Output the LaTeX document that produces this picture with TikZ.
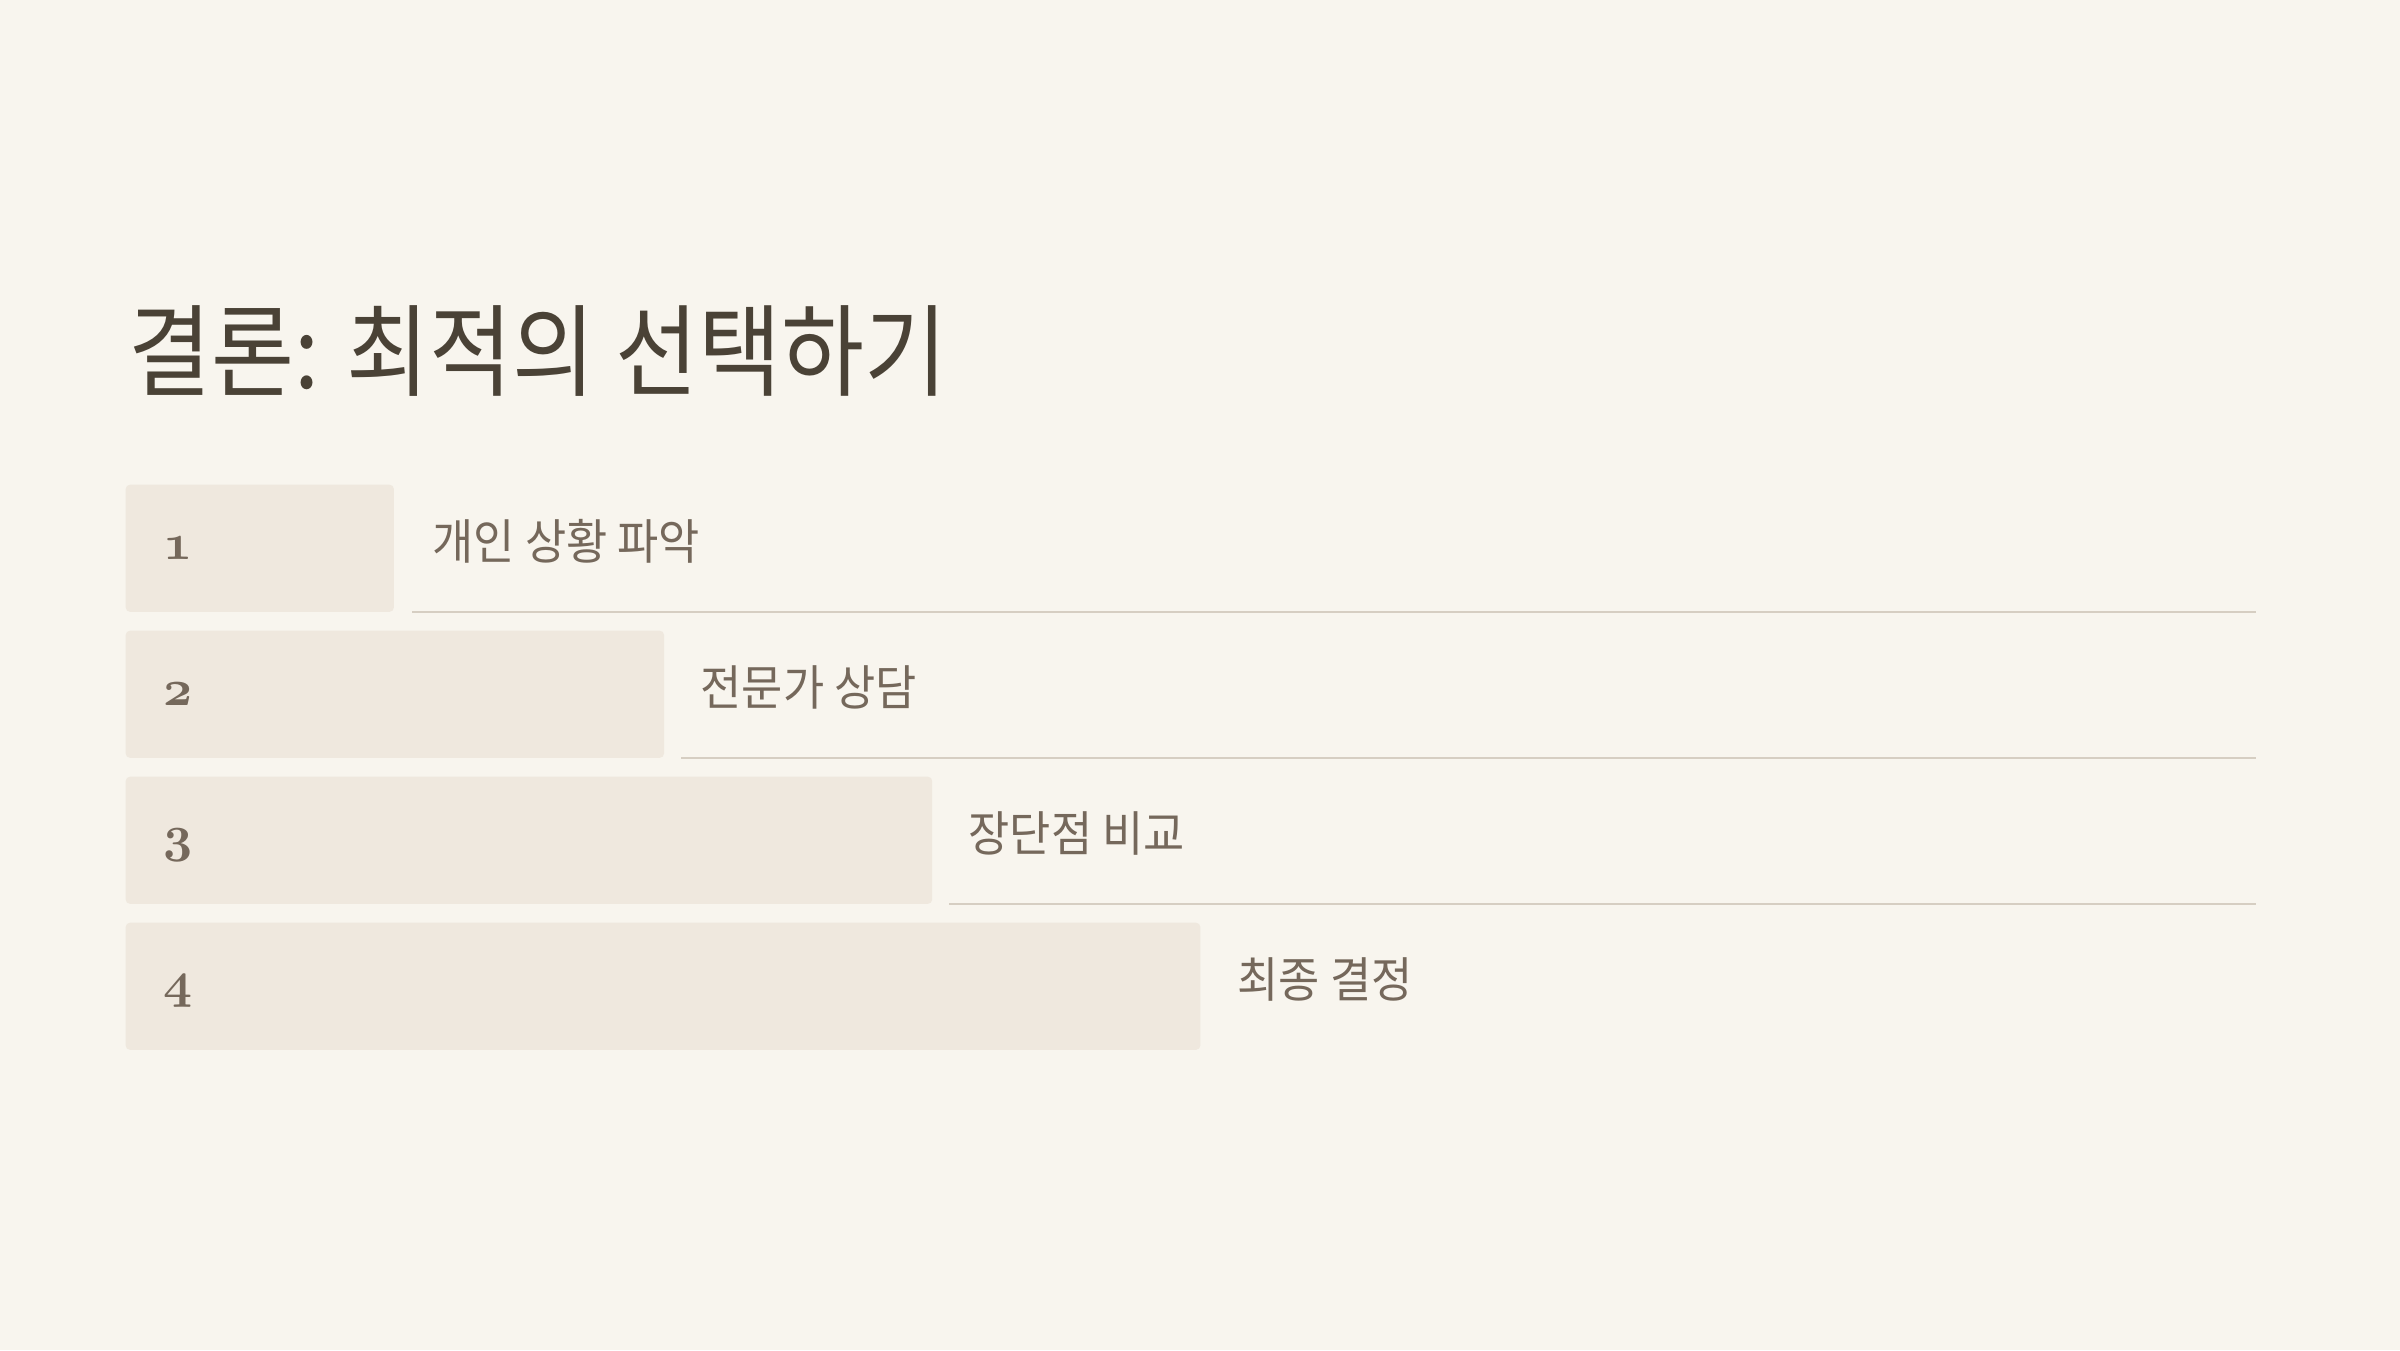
\documentclass[tikz,border=0pt]{standalone}
\usepackage{fontspec}
\newfontfamily\krtitle[FakeStretch=0.9]{Noto Sans CJK KR}
\newfontfamily\krfont[FakeStretch=0.93]{Noto Sans CJK KR}
\usetikzlibrary{positioning}

\definecolor{paper}{HTML}{F8F5EE}
\definecolor{boxfill}{HTML}{EFE8DE}
\definecolor{titleink}{HTML}{4A4236}
\definecolor{textink}{HTML}{75685B}
\definecolor{rulecol}{HTML}{D6CEC2}

\newcommand\stepnum[1]{{\fontencoding{OML}\fontfamily{cmm}\fontseries{b}\fontshape{it}\fontsize{15}{15}\selectfont #1}}

\begin{document}
\begin{tikzpicture}[x=0.01cm, y=-0.01cm]
		\tikzstyle{stepbox}=[fill=boxfill, rounded corners=1.2pt, minimum height=1.27cm, inner sep=0pt, anchor=north west]
		\tikzstyle{stepno}=[text=textink, anchor=base west, inner sep=0pt]
		\tikzstyle{steptext}=[text=textink, font=\krfont\fontsize{13.7}{16}\selectfont, anchor=base west, inner sep=0pt]
		\tikzstyle{steprule}=[draw=rulecol, line width=0.02cm]
		
		\fill[paper] (0,0) rectangle (2400,1350);
		\useasboundingbox (0,0) rectangle (2400,1350);
		
		\node[anchor=base west, inner sep=0pt, text=titleink, font=\krtitle\fontsize{28.5}{32}\selectfont] (title) at (128,388) {결론: 최적의 선택하기};
		
		\node[stepbox, minimum width=2.68cm]  (b1) at (125,484) {};
		\node[stepbox, minimum width=5.38cm]  (b2) at (125,630) {};
		\node[stepbox, minimum width=8.06cm]  (b3) at (125,776) {};
		\node[stepbox, minimum width=10.74cm] (b4) at (125,922) {};
		
		\node[stepno] (n1) at (163,559)  {\stepnum{1}};
		\node[stepno] (n2) at (163,705)  {\stepnum{2}};
		\node[stepno] (n3) at (163,851)  {\stepnum{3}};
		\node[stepno] (n4) at (163,997)  {\stepnum{4}};
		
		\node[steptext] (t1) at (432,559)  {개인 상황 파악};
		\node[steptext] (t2) at (700,705)  {전문가 상담};
		\node[steptext] (t3) at (968,851)  {장단점 비교};
		\node[steptext] (t4) at (1237,997) {최종 결정};
		
		\coordinate (s1) at (412,612);  \coordinate (e1) at (2256,612);
		\coordinate (s2) at (681,758);  \coordinate (e2) at (2256,758);
		\coordinate (s3) at (949,904);  \coordinate (e3) at (2256,904);
		
		\draw[steprule] (s1) -- (e1);
		\draw[steprule] (s2) -- (e2);
		\draw[steprule] (s3) -- (e3);
\end{tikzpicture}
\end{document}
